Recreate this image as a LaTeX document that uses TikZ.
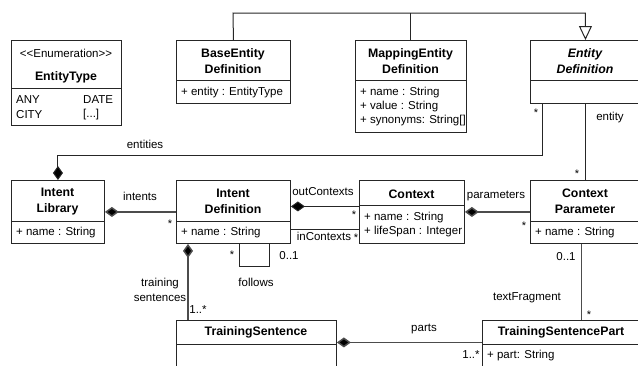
\documentclass[tikz,border=0pt]{standalone}
\usepackage{fontspec}
\setmainfont{Liberation Sans}
\usetikzlibrary{arrows.meta}
\begin{document}
\begin{tikzpicture}[x=1pt,y=-1pt,
  box/.style={draw=black!85,line width=0.9pt,rectangle,anchor=north west,inner sep=0pt},
  div/.style={draw=black!85,line width=0.9pt},
  txt/.style={inner sep=0pt,font=\fontsize{11.5}{14}\selectfont},
  ttl/.style={inner sep=0pt,font=\fontsize{12.3}{15.5}\selectfont\bfseries,align=center},
  attr/.style={txt,anchor=west},
  mult/.style={inner sep=0pt,font=\fontsize{11}{13}\selectfont},
  conn/.style={draw=black!85,line width=1pt},
  conntk/.style={draw=black!70,line width=1.5pt},
  comp/.style={{Diamond[length=14pt,width=10pt,fill=black]}-},
  gen/.style={-{Triangle[open,length=14pt,width=13pt,fill=white]}}
]
\useasboundingbox (0,0) rectangle (638,365);

% ---------- boxes ----------
\node[box,minimum width=110pt,minimum height=85pt] (et) at (11,40) {};
\draw[div] (11,88) -- (121,88);
\node[txt] (et1) at (66,53) {<\kern0pt<Enumeration>\kern0pt>};
\node[ttl] (et2) at (66,77) {EntityType};
\node[attr] (et3) at (16,100) {ANY};
\node[attr] (et4) at (16,115) {CITY};
\node[attr] (et5) at (83,100) {DATE};
\node[attr] (et6) at (83,115) {[...]};

\node[box,minimum width=114pt,minimum height=63pt] (bed) at (176,40) {};
\draw[div] (176,80) -- (290,80);
\node[ttl] (bed1) at (233,61) {BaseEntity\\Definition};
\node[attr] (bed2) at (181,93) {+ entity : EntityType};

\node[box,minimum width=111pt,minimum height=92pt] (med) at (355,40) {};
\draw[div] (355,80) -- (466,80);
\node[ttl] (med1) at (410.5,61) {MappingEntity\\Definition};
\node[attr] (med2) at (360,93) {+ name : String};
\node[attr] (med3) at (360,107) {+ value : String};
\node[attr] (med4) at (360,121) {+ synonyms: String[]};

\node[box,minimum width=110pt,minimum height=63pt] (ed) at (530,40) {};
\draw[div] (530,80) -- (640,80);
\node[ttl,font=\fontsize{12.3}{15.5}\selectfont\bfseries\itshape] (ed1) at (585,61) {Entity\\Definition};

\node[box,minimum width=93pt,minimum height=63pt] (il) at (11,180) {};
\draw[div] (11,221) -- (104,221);
\node[ttl] (il1) at (57.5,201.5) {Intent\\Library};
\node[attr] (il2) at (16,233) {+ name : String};

\node[box,minimum width=114pt,minimum height=63pt] (id) at (176,180) {};
\draw[div] (176,221) -- (290,221);
\node[ttl] (id1) at (233,201.5) {Intent\\Definition};
\node[attr] (id2) at (181,233) {+ name : String};

\node[box,minimum width=105pt,minimum height=63pt] (ctx) at (359,180) {};
\draw[div] (359,205) -- (464,205);
\node[ttl] (ctx1) at (411.5,194) {Context};
\node[attr] (ctx2) at (364,218) {+ name : String};
\node[attr] (ctx3) at (364,232) {+ lifeSpan : Integer};

\node[box,minimum width=110pt,minimum height=63pt] (cp) at (530,180) {};
\draw[div] (530,221) -- (640,221);
\node[ttl] (cp1) at (585,201.5) {Context\\Parameter};
\node[attr] (cp2) at (535,233) {+ name : String};

\node[box,minimum width=160pt,minimum height=50pt] (ts) at (176,320) {};
\draw[div] (176,344) -- (336,344);
\node[ttl] (ts1) at (256,332) {TrainingSentence};

\node[box,minimum width=158pt,minimum height=50pt] (tsp) at (482,320) {};
\draw[div] (482,344) -- (640,344);
\node[ttl] (tsp1) at (561,332) {TrainingSentencePart};
\node[attr] (tsp2) at (487,356) {+ part: String};

% ---------- connectors ----------
\coordinate (gbar) at (233,13);
\draw[conn,gen] (bed.north) -- (gbar) -| (ed.north);
\draw[conn] (med.north) -- (med.north |- gbar);

\draw[conn,comp] (il.north) -- ++(0,-25) -| ([xshift=12pt]ed.south west);
\node[txt] (l1) at (145,144) {entities};
\node[mult] (m1) at (536,113) {*};

\draw[conn] (ed.south) -- (cp.north);
\node[txt] (l2) at (610,118) {entity};
\node[mult] (m2) at (577,174) {*};

\draw[conntk,comp] (il.east) -- (id.west);
\node[txt] (l3) at (140,196) {intents};
\node[mult] (m3) at (170,224) {*};

\draw[conn,comp] ([yshift=5.5pt]id.east) -- ([yshift=5.5pt]ctx.west);
\node[txt] (l4) at (323,192) {outContexts};
\node[mult] (m4) at (354,215) {*};

\draw[conn] ([yshift=-17.5pt]id.east) -- ([yshift=-17.5pt]ctx.west);
\node[txt] (l5) at (324,236) {inContexts};
\node[mult] (m5) at (356,238) {*};

\draw[conntk,comp] (ctx.east) -- (cp.west);
\node[txt] (l6) at (496,196) {parameters};
\node[mult] (m6) at (524,226) {*};

\draw[conntk] ([xshift=-4pt]cp.south) -- ([xshift=20pt]tsp.north);
\node[txt] (m7) at (566,257) {0..1};
\node[txt] (l7) at (527,298) {textFragment};
\node[mult] (m8) at (589,315) {*};

\draw[conn] ([xshift=6pt]id.south) -- ++(0,23) -| ([xshift=36pt]id.south);
\node[mult] (m9) at (232,255) {*};
\node[txt] (m10) at (289,256) {0..1};
\node[txt] (l8) at (256,282) {follows};

\draw[conntk,comp] ([xshift=12pt]id.south west) -- ([xshift=12pt]ts.north west);
\node[txt,align=center,font=\fontsize{11.5}{15}\selectfont] (l9) at (160,289.5) {training\\sentences};
\node[txt] (m11) at (198,310) {1..*};

\draw[conntk,comp] ([yshift=3pt]ts.east) -- ([yshift=3pt]tsp.west);
\node[txt] (l10) at (424,329) {parts};
\node[txt] (m12) at (471,355) {1..*};
\end{tikzpicture}
\end{document}
